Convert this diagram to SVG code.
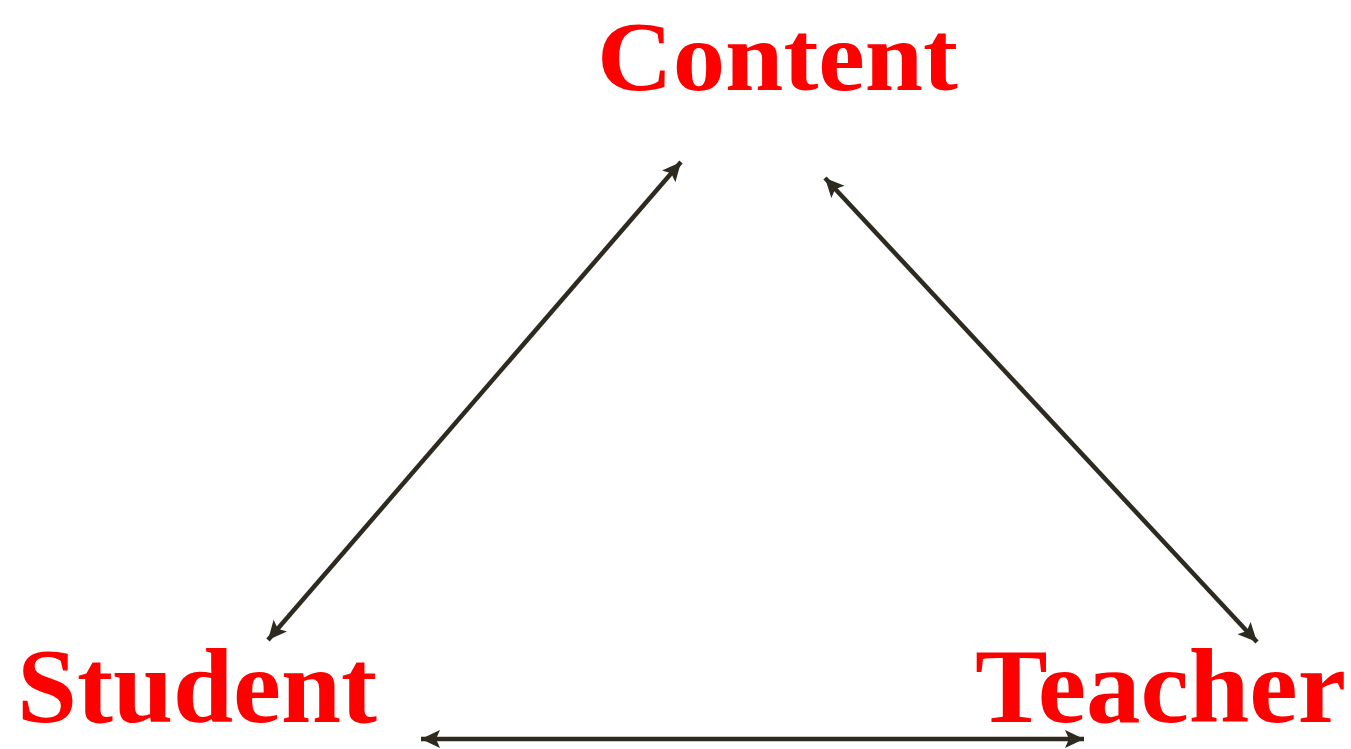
<svg xmlns="http://www.w3.org/2000/svg" width="1351" height="749" viewBox="0 0 1351 749">
<style>
.lbl{font-family:"Liberation Serif","DejaVu Serif",serif;font-weight:bold;font-size:106px;fill:#ff0000}
.conn{stroke:#2e2a1f;stroke-width:4.5;fill:none}
</style>
<defs>
<marker id="ah" markerUnits="userSpaceOnUse" markerWidth="22" markerHeight="20" refX="19" refY="9" orient="auto-start-reverse">
<path d="M0,0 L19,9 L0,18 L4,9 Z" fill="#2e2a1f"/>
</marker>
</defs>
<rect width="1351" height="749" fill="#ffffff"/>
<g id="connectors">
<line class="conn" x1="268" y1="640" x2="681" y2="162" marker-start="url(#ah)" marker-end="url(#ah)"/>
<line class="conn" x1="825" y1="178" x2="1257" y2="642" marker-start="url(#ah)" marker-end="url(#ah)"/>
<line class="conn" x1="421" y1="739" x2="1084" y2="739" marker-start="url(#ah)" marker-end="url(#ah)"/>
</g>
<g id="content"><text class="lbl" x="597" y="90" style="font-size:100px" textLength="361" lengthAdjust="spacingAndGlyphs">Content</text></g>
<g id="student"><text class="lbl" x="17" y="722" textLength="360" lengthAdjust="spacingAndGlyphs">Student</text></g>
<g id="teacher"><text class="lbl" x="975" y="722" textLength="371" lengthAdjust="spacingAndGlyphs">Teacher</text></g>
</svg>
